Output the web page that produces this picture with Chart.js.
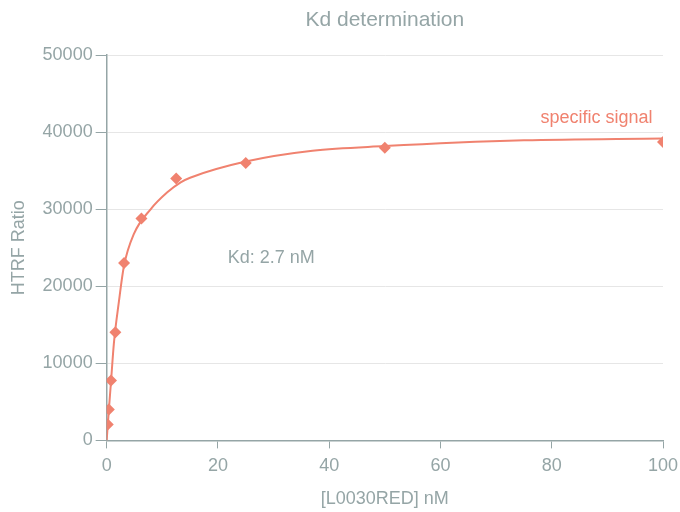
<!DOCTYPE html>
<html>
<head>
<meta charset="utf-8">
<script src="https://cdn.jsdelivr.net/npm/chart.js@4/dist/chart.umd.min.js"></script>
<style>
  body { margin: 0; background: #fff; }
  #wrap { width: 680px; height: 512px; }
</style>
</head>
<body>
<div id="wrap"><canvas id="grafico"></canvas></div>
<script>
// concentracoes medidas (nM) e sinal HTRF
const concentracoes = [0.195, 0.39, 0.78, 1.5625, 3.125, 6.25, 12.5, 25, 50, 100];
const sinal = [2070, 4020, 7770, 14030, 23020, 28800, 33980, 36010, 37990, 38730];

// curva ajustada
const curvaX = [0, 0.2, 0.4, 0.78, 1.3, 2.2, 3.1, 4.9, 7.9, 10.9, 13.3, 15, 25, 37, 50, 75, 100];
const curvaY = [0, 2000, 4000, 7600, 12600, 18000, 22600, 26800, 30000, 32200, 33500, 34100, 36200, 37600, 38200, 38950, 39200];

const yTicks = [0, 10000, 20000, 30000, 40000, 50000];
const xTicks = [0, 20, 40, 60, 80, 100];

const corSinal = '#f0826f';
const cinza = '#95a5a6';
const fonte = '"Liberation Sans", Arial, sans-serif';

// textos soltos dentro do grafico
const textosPlugin = {
    id: 'textos',
    afterDatasetsDraw(chart) {
        const ctx = chart.ctx;
        const sx = chart.scales.x, sy = chart.scales.y;
        ctx.save();
        ctx.font = '18px ' + fonte;
        ctx.textBaseline = 'middle';
        ctx.fillStyle = cinza;
        ctx.textAlign = 'center';
        ctx.fillText('Kd: 2.7 nM', sx.getPixelForValue(29.6), sy.getPixelForValue(23700));
        ctx.fillStyle = corSinal;
        ctx.textAlign = 'right';
        ctx.fillText('specific signal', sx.getPixelForValue(98.1), sy.getPixelForValue(41900));
        ctx.restore();
    }
};

const pontos = concentracoes.map((x, i) => ({ x: x, y: sinal[i] }));
const curva = curvaX.map((x, i) => ({ x: x, y: curvaY[i] }));

const config = {
    type: 'scatter',
    data: {
        datasets: [
            {
                label: 'specific signal',
                data: pontos,
                pointStyle: 'rectRot',
                pointRadius: 6,
                backgroundColor: corSinal,
                borderColor: corSinal,
                borderWidth: 0,
                showLine: false
            },
            {
                label: 'fit',
                data: curva,
                showLine: true,
                pointRadius: 0,
                borderColor: corSinal,
                borderWidth: 2,
                cubicInterpolationMode: 'monotone'
            }
        ]
    },
    options: {
        responsive: false,
        animation: false,
        layout: { padding: { top: 4, right: 0, left: 4, bottom: 0 } },
        plugins: {
            legend: { display: false },
            tooltip: { enabled: false },
            title: {
                display: true,
                fullSize: false,
                text: 'Kd determination',
                color: cinza,
                font: { family: fonte, size: 21, weight: 'normal' },
                padding: { top: 4, bottom: 22 }
            }
        },
        scales: {
            x: {
                type: 'linear',
                min: 0,
                max: 100,
                afterBuildTicks: axis => { axis.ticks = xTicks.map(v => ({ value: v })); },
                afterFit: axis => { axis.paddingRight = 17; },
                ticks: { color: cinza, font: { family: fonte, size: 18 }, padding: 7, callback: v => String(v) },
                grid: { drawOnChartArea: false, tickColor: cinza, tickLength: 8 },
                border: { color: cinza, width: 1.5 },
                title: {
                    display: true,
                    text: '[L0030RED] nM',
                    color: cinza,
                    font: { family: fonte, size: 18, lineHeight: 1 },
                    padding: { top: 6 }
                }
            },
            y: {
                type: 'linear',
                min: 0,
                max: 50000,
                afterBuildTicks: axis => { axis.ticks = yTicks.map(v => ({ value: v })); },
                ticks: { color: cinza, font: { family: fonte, size: 18 }, padding: 3, callback: v => String(v) },
                grid: { color: '#e6e6e6', tickColor: cinza, tickLength: 11 },
                border: { color: cinza, width: 1.5 },
                title: {
                    display: true,
                    text: 'HTRF Ratio',
                    color: cinza,
                    font: { family: fonte, size: 18 },
                    padding: { bottom: 10 }
                }
            }
        }
    },
    plugins: [textosPlugin]
};

const ctx = document.getElementById('grafico');
ctx.width = 680;
ctx.height = 512;
const meuGrafico = new Chart(ctx, config);
</script>
</body>
</html>
